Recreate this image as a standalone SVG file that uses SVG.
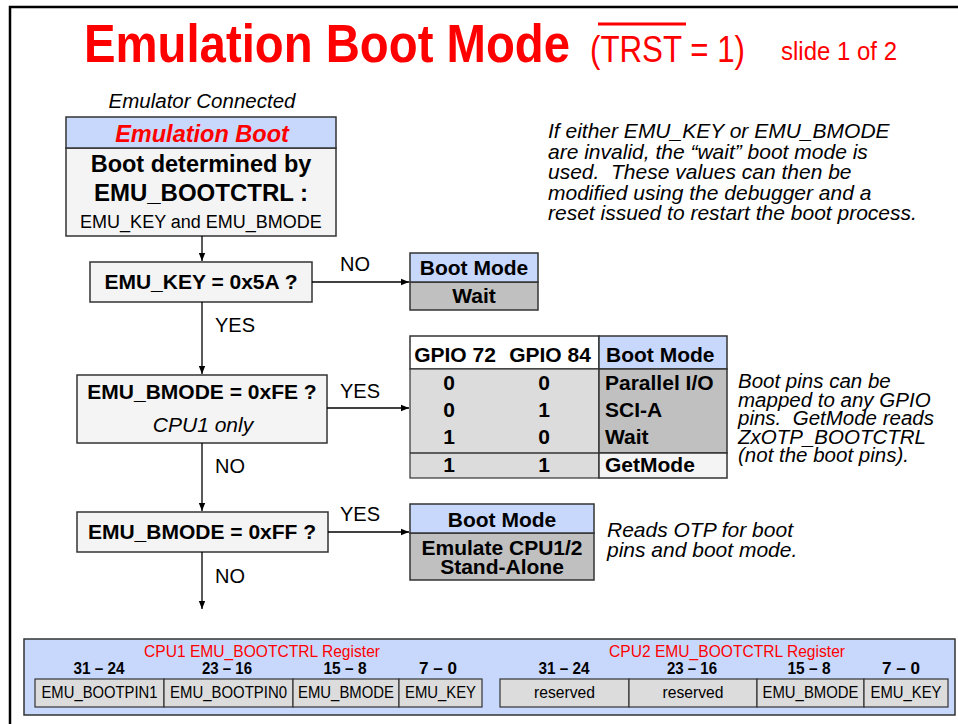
<svg xmlns="http://www.w3.org/2000/svg" width="958" height="724" viewBox="0 0 958 724">
<style>
text{font-family:"Liberation Sans",Arial,sans-serif;fill:#000}
.b{font-weight:bold}
.i{font-style:italic}
.red{fill:#ff0000}
.box{fill:#f4f4f4;stroke:#333;stroke-width:1.5}
.hdr{fill:#c8d8fc;stroke:#333;stroke-width:1.5}
.dk{fill:#c0c0c0;stroke:#333;stroke-width:1.5}
.lt{fill:#dcdcdc;stroke:#333;stroke-width:1.2}
.f21{font-size:21px}
.c{text-anchor:middle}
.conn line{stroke:#000;stroke-width:1.3}
.rt{font-size:17px;text-anchor:middle}
</style>
<defs>
<marker id="ah" viewBox="0 0 10 10" refX="10" refY="5" markerWidth="8" markerHeight="8" markerUnits="userSpaceOnUse" orient="auto">
<path d="M0,1 L10,5 L0,9 z" fill="#000"/>
</marker>
</defs>
<rect x="10" y="7" width="960" height="730" fill="#fff" stroke="#000" stroke-width="2.5"/>

<g id="title">
<text x="84" y="62" class="b red" font-size="54" textLength="486" lengthAdjust="spacingAndGlyphs">Emulation Boot Mode</text>
<text x="590" y="62" class="red" font-size="37" textLength="155" lengthAdjust="spacingAndGlyphs">(TRST = 1)</text>
<line x1="598" y1="24" x2="686" y2="24" stroke="#ff0000" stroke-width="3"/>
<text x="781" y="60" class="red" font-size="26" textLength="116" lengthAdjust="spacingAndGlyphs">slide 1 of 2</text>
</g>

<g id="emulator-connected">
<text x="202" y="108" class="i c" font-size="20.5">Emulator Connected</text>
</g>

<g id="emulation-boot">
<rect x="66" y="148" width="270" height="88" class="box"/>
<rect x="66" y="117" width="270" height="31" class="hdr"/>
<text x="202" y="142" class="b i red c" font-size="23.5">Emulation Boot</text>
<text x="201" y="172" class="b c" font-size="23.5">Boot determined by</text>
<text x="201" y="201" class="b c" font-size="24">EMU_BOOTCTRL :</text>
<text x="201" y="228" class="c" font-size="18">EMU_KEY and EMU_BMODE</text>
</g>

<g id="note-top">
<text class="i f21" xml:space="preserve"><tspan x="548" y="138">If either EMU_KEY or EMU_BMODE</tspan><tspan x="548" y="158.5">are invalid, the “wait” boot mode is</tspan><tspan x="548" y="179">used.  These values can then be</tspan><tspan x="548" y="199.5">modified using the debugger and a</tspan><tspan x="548" y="220">reset issued to restart the boot process.</tspan></text>
</g>

<g id="key-check">
<rect x="90" y="262" width="222" height="40" class="box"/>
<text x="201" y="289" class="b f21 c">EMU_KEY = 0x5A ?</text>
</g>

<g id="wait-box">
<rect x="410" y="282" width="128" height="28" class="dk"/>
<rect x="410" y="253" width="128" height="29" class="hdr"/>
<text x="474" y="275" class="b f21 c">Boot Mode</text>
<text x="474" y="303" class="b f21 c">Wait</text>
</g>

<g id="bmode-fe">
<rect x="77" y="375" width="250" height="68" class="box"/>
<text x="202" y="399" class="b f21 c">EMU_BMODE = 0xFE ?</text>
<text x="203" y="432" class="i f21 c">CPU1 only</text>
</g>

<g id="gpio-table">
<rect x="410" y="336" width="189" height="33" fill="#fff" stroke="#333" stroke-width="1.5"/>
<rect x="599" y="336" width="128" height="33" class="hdr"/>
<rect x="410" y="369" width="189" height="109" class="lt"/>
<rect x="599" y="369" width="128" height="84" class="dk"/>
<rect x="599" y="453" width="128" height="25" fill="#f4f4f4" stroke="#333" stroke-width="1.5"/>
<line x1="410" y1="453" x2="599" y2="453" stroke="#333" stroke-width="1.5"/>
<text x="455" y="362" class="b f21 c">GPIO 72</text>
<text x="550" y="362" class="b f21 c">GPIO 84</text>
<text x="606" y="362" class="b f21">Boot Mode</text>
<text x="449" y="390" class="b f21 c">0</text><text x="544" y="390" class="b f21 c">0</text><text x="605" y="390" class="b f21">Parallel I/O</text>
<text x="449" y="417" class="b f21 c">0</text><text x="544" y="417" class="b f21 c">1</text><text x="605" y="417" class="b f21">SCI-A</text>
<text x="449" y="444" class="b f21 c">1</text><text x="544" y="444" class="b f21 c">0</text><text x="605" y="444" class="b f21">Wait</text>
<text x="449" y="472" class="b f21 c">1</text><text x="544" y="472" class="b f21 c">1</text><text x="605" y="472" class="b f21">GetMode</text>
</g>

<g id="note-pins">
<text class="i" font-size="20.5" xml:space="preserve"><tspan x="738" y="388">Boot pins can be</tspan><tspan x="738" y="406.5">mapped to any GPIO</tspan><tspan x="738" y="425">pins.  GetMode reads</tspan><tspan x="738" y="443.5">ZxOTP_BOOTCTRL</tspan><tspan x="738" y="462">(not the boot pins).</tspan></text>
</g>

<g id="bmode-ff">
<rect x="77" y="512" width="251" height="40" class="box"/>
<text x="202" y="539" class="b f21 c">EMU_BMODE = 0xFF ?</text>
</g>

<g id="emulate-box">
<rect x="410" y="533" width="184" height="47" class="dk"/>
<rect x="410" y="504" width="184" height="29" class="hdr"/>
<text x="502" y="527" class="b f21 c">Boot Mode</text>
<text x="502" y="555" class="b f21 c">Emulate CPU1/2</text>
<text x="502" y="574" class="b f21 c">Stand-Alone</text>
</g>

<g id="note-otp">
<text class="i f21"><tspan x="607" y="537">Reads OTP for boot</tspan><tspan x="607" y="557">pins and boot mode.</tspan></text>
</g>

<g class="conn" id="connectors">
<line x1="202" y1="236" x2="202" y2="261" marker-end="url(#ah)"/>
<line x1="312" y1="282" x2="409" y2="282" marker-end="url(#ah)"/>
<line x1="202" y1="302" x2="202" y2="374" marker-end="url(#ah)"/>
<line x1="327" y1="408" x2="409" y2="408" marker-end="url(#ah)"/>
<line x1="202" y1="443" x2="202" y2="511" marker-end="url(#ah)"/>
<line x1="328" y1="532" x2="409" y2="532" marker-end="url(#ah)"/>
<line x1="202" y1="552" x2="202" y2="609" marker-end="url(#ah)"/>
<text x="340" y="271" font-size="20">NO</text>
<text x="215" y="332" font-size="20">YES</text>
<text x="340" y="398" font-size="20">YES</text>
<text x="215" y="473" font-size="20">NO</text>
<text x="340" y="521" font-size="20">YES</text>
<text x="215" y="583" font-size="20">NO</text>
</g>

<g id="registers">
<rect x="24" y="639" width="931" height="76" fill="#c8d8fc" stroke="#333" stroke-width="1.5"/>
<text x="262" y="657" class="red c" font-size="17" textLength="236" lengthAdjust="spacingAndGlyphs">CPU1 EMU_BOOTCTRL Register</text>
<text x="727" y="657" class="red c" font-size="17" textLength="236" lengthAdjust="spacingAndGlyphs">CPU2 EMU_BOOTCTRL Register</text>
<g class="b">
<text x="99" y="674" class="rt" textLength="51" lengthAdjust="spacingAndGlyphs">31 – 24</text>
<text x="227" y="674" class="rt" textLength="50" lengthAdjust="spacingAndGlyphs">23 – 16</text>
<text x="345" y="674" class="rt" textLength="43" lengthAdjust="spacingAndGlyphs">15 – 8</text>
<text x="438" y="674" class="rt" textLength="38" lengthAdjust="spacingAndGlyphs">7 – 0</text>
<text x="564" y="674" class="rt" textLength="51" lengthAdjust="spacingAndGlyphs">31 – 24</text>
<text x="692" y="674" class="rt" textLength="50" lengthAdjust="spacingAndGlyphs">23 – 16</text>
<text x="809" y="674" class="rt" textLength="43" lengthAdjust="spacingAndGlyphs">15 – 8</text>
<text x="901" y="674" class="rt" textLength="38" lengthAdjust="spacingAndGlyphs">7 – 0</text>
</g>
<rect x="35" y="679" width="129" height="28" class="lt"/>
<rect x="164" y="679" width="129" height="28" class="lt"/>
<rect x="293" y="679" width="106" height="28" class="lt"/>
<rect x="399" y="679" width="83" height="28" class="lt"/>
<rect x="500" y="679" width="129" height="28" class="lt"/>
<rect x="629" y="679" width="128" height="28" class="lt"/>
<rect x="757" y="679" width="107" height="28" class="lt"/>
<rect x="864" y="679" width="84" height="28" class="lt"/>
<text x="99.5" y="698" class="rt" textLength="116" lengthAdjust="spacingAndGlyphs">EMU_BOOTPIN1</text>
<text x="228.5" y="698" class="rt" textLength="117" lengthAdjust="spacingAndGlyphs">EMU_BOOTPIN0</text>
<text x="346" y="698" class="rt" textLength="96" lengthAdjust="spacingAndGlyphs">EMU_BMODE</text>
<text x="440.5" y="698" class="rt" textLength="71" lengthAdjust="spacingAndGlyphs">EMU_KEY</text>
<text x="564.5" y="698" class="rt" textLength="61" lengthAdjust="spacingAndGlyphs">reserved</text>
<text x="693" y="698" class="rt" textLength="61" lengthAdjust="spacingAndGlyphs">reserved</text>
<text x="810.5" y="698" class="rt" textLength="96" lengthAdjust="spacingAndGlyphs">EMU_BMODE</text>
<text x="906" y="698" class="rt" textLength="71" lengthAdjust="spacingAndGlyphs">EMU_KEY</text>
</g>
</svg>
